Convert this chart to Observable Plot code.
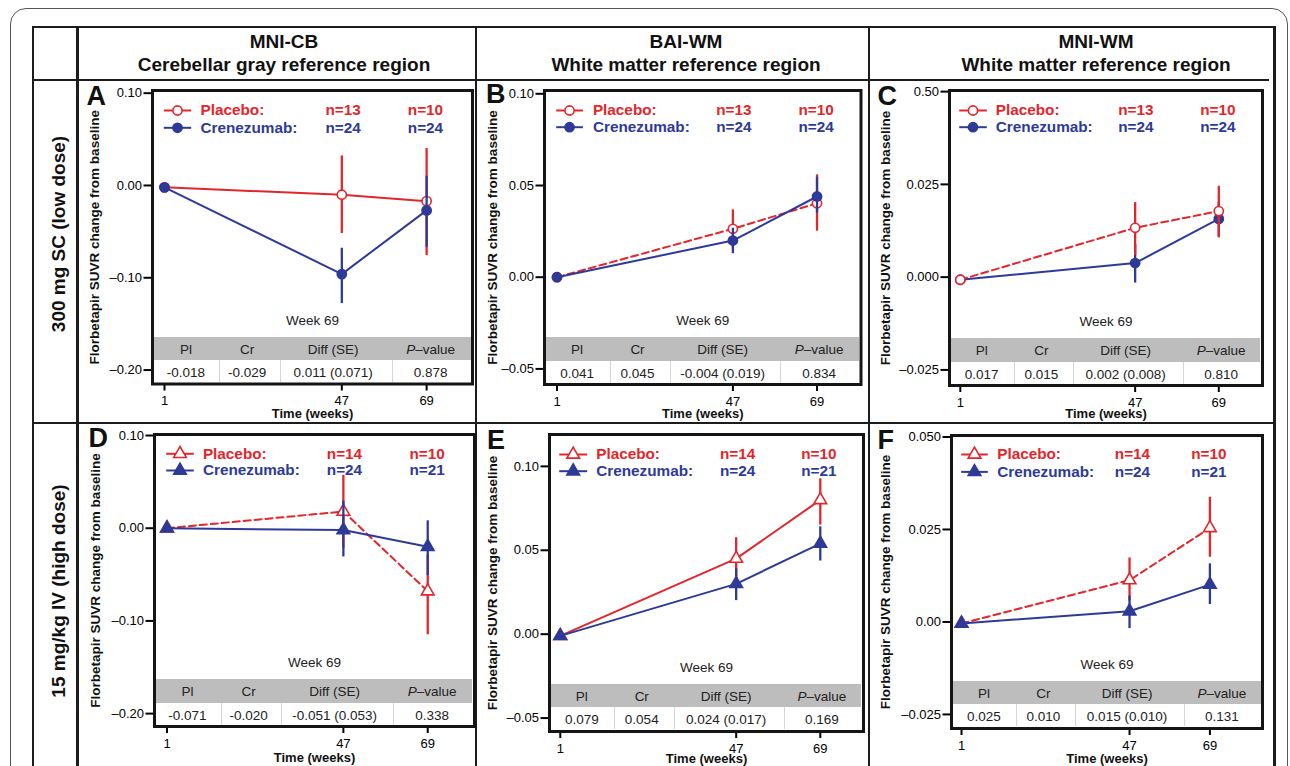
<!DOCTYPE html>
<html><head><meta charset="utf-8">
<script src="https://cdn.jsdelivr.net/npm/d3@7"></script>
<script src="https://cdn.jsdelivr.net/npm/@observablehq/plot@0.6"></script>
<style>
body{margin:0;background:#fff;font-family:"Liberation Sans",Arial,Helvetica,sans-serif;}
#fig{position:relative;width:1290px;height:766px;overflow:hidden;background:#fff;}
.ln{position:absolute;background:#1c1c1c;}
.hdr{position:absolute;transform:translate(-50%,-50%);font-weight:bold;font-size:19px;color:#111;white-space:nowrap;}
.rowlab{position:absolute;font-weight:bold;font-size:19px;white-space:nowrap;transform:translate(-50%,-50%) rotate(-90deg);color:#111;}
.pan{position:absolute;}
.pan svg{overflow:visible;}
.tbl{position:absolute;font-size:13.5px;color:#222;background:#fff;}
.tbl .gray{position:absolute;left:0;right:0;top:0;height:23.5px;background:#bdbdbd;}
.tbl .cell{position:absolute;transform:translate(-50%,-50%);white-space:nowrap;}
.tbl .sep{position:absolute;width:1px;background:#d6d6d6;}
</style></head>
<body><div id="fig"></div>
<script>
// ---------- data ----------
const weeks = [1, 47, 69];
const xTicks = [1, 47, 69];
const colHeads = ["Pl", "Cr", "Diff (SE)", "<i>P</i>–value"];
const legendLabels = ["Placebo:", "Crenezumab:"];
const weekLabel = "Week 69";
const xLabel = "Time (weeks)";
const yLabel = "Florbetapir SUVR change from baseline";
const colTitles = [["MNI-CB", "Cerebellar gray reference region"], ["BAI-WM", "White matter reference region"], ["MNI-WM", "White matter reference region"]];
const rowTitles = ["300 mg SC (low dose)", "15 mg/kg IV (high dose)"];

const yTicksCB = [0.10, 0.00, -0.10, -0.20];
const yTickLabelsCB = ["0.10", "0.00", "–0.10", "–0.20"];
const yTicksBAI = [0.10, 0.05, 0.00, -0.05];
const yTickLabelsBAI = ["0.10", "0.05", "0.00", "–0.05"];
const yTicksWM = [0.05, 0.025, 0.00, -0.025];
const yTickLabelsC = ["0.50", "0.025", "0.000", "–0.025"];
const yTickLabelsF = ["0.050", "0.025", "0.00", "–0.025"];

const nLowPl = ["n=13", "n=10"], nLowCr = ["n=24", "n=24"];
const nHighPl = ["n=14", "n=10"], nHighCr = ["n=24", "n=21"];

// Panel A
const aPlMean = [-0.002, -0.010, -0.017], aPlLo = [null, -0.052, -0.076], aPlHi = [null, 0.032, 0.040];
const aCrMean = [-0.002, -0.096, -0.027], aCrLo = [null, -0.128, -0.067], aCrHi = [null, -0.068, 0.010];
const aTable = ["-0.018", "-0.029", "0.011 (0.071)", "0.878"];
// Panel B
const bPlMean = [0.000, 0.0264, 0.0403], bPlLo = [null, 0.0155, 0.0251], bPlHi = [null, 0.0367, 0.0558];
const bCrMean = [0.000, 0.0200, 0.0440], bCrLo = [null, 0.0128, 0.0349], bCrHi = [null, 0.0267, 0.0545];
const bTable = ["0.041", "0.045", "-0.004 (0.019)", "0.834"];
// Panel C
const cPlMean = [-0.0007, 0.0133, 0.0178], cPlLo = [null, 0.0059, 0.0106], cPlHi = [null, 0.0201, 0.0245];
const cCrMean = [-0.0007, 0.0038, 0.0157], cCrLo = [null, -0.0016, 0.0108], cCrHi = [null, 0.0087, 0.0202];
const cTable = ["0.017", "0.015", "0.002 (0.008)", "0.810"];
// Panel D
const dPlMean = [0.000, 0.018, -0.068], dPlLo = [null, -0.022, -0.115], dPlHi = [null, 0.057, -0.029];
const dCrMean = [0.000, -0.002, -0.020], dCrLo = [null, -0.031, -0.051], dCrHi = [null, 0.029, 0.008];
const dTable = ["-0.071", "-0.020", "-0.051 (0.053)", "0.338"];
// Panel E
const ePlMean = [-0.001, 0.045, 0.080], ePlLo = [null, 0.032, 0.065], ePlHi = [null, 0.0575, 0.0926];
const eCrMean = [-0.001, 0.030, 0.054], eCrLo = [null, 0.020, 0.0436], eCrHi = [null, 0.039, 0.064];
const eTable = ["0.079", "0.054", "0.024 (0.017)", "0.169"];
// Panel F
const fPlMean = [-0.0004, 0.0113, 0.0254], fPlLo = [null, 0.0056, 0.0175], fPlHi = [null, 0.0173, 0.0337];
const fCrMean = [-0.0004, 0.0029, 0.0101], fCrLo = [null, -0.0018, 0.0047], fCrHi = [null, 0.0070, 0.0157];
const fTable = ["0.025", "0.010", "0.015 (0.010)", "0.131"];

// ---------- style / layout ----------
const RED = "#e3262b", BLUE = "#2d3a98";
const FONT = "Liberation Sans, Arial, Helvetica, sans-serif";
const fig = document.getElementById("fig");

function addDiv(cls, css, html) {
  const d = document.createElement("div");
  d.className = cls;
  Object.assign(d.style, css);
  if (html != null) d.innerHTML = html;
  fig.appendChild(d);
  return d;
}
// outer rounded border
addDiv("", {position: "absolute", left: "10px", top: "8px", width: "1276px", height: "820px", border: "1.5px solid #555", borderRadius: "16px"});
// table grid
const L = (x, y, w, h) => addDiv("ln", {left: x + "px", top: y + "px", width: w + "px", height: h + "px"});
L(31.5, 25.5, 2.5, 760); L(31.5, 25.5, 1244, 2.5); L(1273, 25.5, 2.5, 760);
L(76, 25.5, 2.5, 760); L(474.5, 25.5, 2.5, 760); L(867.5, 25.5, 2.5, 760);
L(31.5, 78.5, 1237, 2.5); L(31.5, 421.5, 1244, 2.5);
// headers
const hdrX = [284, 686, 1096];
colTitles.forEach((t, i) => {
  addDiv("hdr", {left: hdrX[i] + "px", top: "42px"}, t[0]);
  addDiv("hdr", {left: hdrX[i] + "px", top: "64.5px"}, t[1]);
});
addDiv("rowlab", {left: "59px", top: "234px"}, rowTitles[0]);
addDiv("rowlab", {left: "59px", top: "591px"}, rowTitles[1]);

const series = (m, lo, hi) => weeks.map((w, i) => ({week: w, mean: m[i], lo: lo[i], hi: hi[i]}));
const lineSym = {draw(ctx, size) { const r = Math.sqrt(size / Math.PI); ctx.moveTo(-r, 0); ctx.lineTo(r, 0); }};

const panels = [
  {id: "A", fx: 152, fy: 90, fw: 320, fh: 293.5, xdom: [-2.11, 80.9], ydom: [-0.2151, 0.1029], yTicks: yTicksCB, yLabels: yTickLabelsCB,
   pl: series(aPlMean, aPlLo, aPlHi), cr: series(aCrMean, aCrLo, aCrHi), dash: false, sym: "circle", nPl: nLowPl, nCr: nLowCr, table: aTable,
   letter: [-66, -5], ylab: -58, xlab: 29.5, leg: {x0: 11.3, x1: 38.7, tx: 48, n1: 173, n2: 255.3, y1: 20, y2: 37.3}},
  {id: "B", fx: 543.5, fy: 90, fw: 316.5, fh: 294, xdom: [-2.27, 80.5], ydom: [-0.0585, 0.1018], yTicks: yTicksBAI, yLabels: yTickLabelsBAI,
   pl: series(bPlMean, bPlLo, bPlHi), cr: series(bCrMean, bCrLo, bCrHi), dash: true, sym: "circle", nPl: nLowPl, nCr: nLowCr, table: bTable,
   letter: [-58.5, -6.5], ylab: -52, xlab: 29.3, leg: {x0: 11.7, x1: 38.4, tx: 48.4, n1: 171.7, n2: 254, y1: 20, y2: 36.7}},
  {id: "C", fx: 948.5, fy: 90, fw: 313, fh: 295, xdom: [-1.84, 80.5], ydom: [-0.0292, 0.0503], yTicks: yTicksWM, yLabels: yTickLabelsC,
   pl: series(cPlMean, cPlLo, cPlHi), cr: series(cCrMean, cCrLo, cCrHi), dash: true, sym: "circle", nPl: nLowPl, nCr: nLowCr, table: cTable,
   letter: [-72, -5], ylab: -63.5, xlab: 28.5, leg: {x0: 9.7, x1: 37.3, tx: 46.3, n1: 168.7, n2: 250.7, y1: 20, y2: 36.7}, plTop: true},
  {id: "D", fx: 153.5, fy: 434, fw: 320, fh: 292, xdom: [-2.26, 81.2], ydom: [-0.2139, 0.1011], yTicks: yTicksCB, yLabels: yTickLabelsCB,
   pl: series(dPlMean, dPlLo, dPlHi), cr: series(dCrMean, dCrLo, dCrHi), dash: true, sym: "triangle", nPl: nHighPl, nCr: nHighCr, table: dTable,
   letter: [-66, -7], ylab: -58.5, xlab: 31.5, leg: {x0: 11.7, x1: 39.3, tx: 48.4, n1: 172.3, n2: 255, y1: 19.3, y2: 36}},
  {id: "E", fx: 548.5, fy: 433.5, fw: 314, fh: 297, xdom: [-1.82, 80.3], ydom: [-0.058, 0.119], yTicks: yTicksBAI, yLabels: yTickLabelsBAI,
   pl: series(ePlMean, ePlLo, ePlHi), cr: series(eCrMean, eCrLo, eCrHi), dash: false, sym: "triangle", nPl: nHighPl, nCr: nHighCr, table: eTable,
   letter: [-62.5, -5], ylab: -56.5, xlab: 27.3, leg: {x0: 9.7, x1: 37.7, tx: 46.7, n1: 170.5, n2: 251.7, y1: 20, y2: 36.7}},
  {id: "F", fx: 951, fy: 434.5, fw: 311, fh: 293, xdom: [-1.74, 83.4], ydom: [-0.0288, 0.0504], yTicks: yTicksWM, yLabels: yTickLabelsF,
   pl: series(fPlMean, fPlLo, fPlHi), cr: series(fCrMean, fCrLo, fCrHi), dash: true, sym: "triangle", nPl: nHighPl, nCr: nHighCr, table: fTable,
   letter: [-74, -6], ylab: -66, xlab: 30.5, leg: {x0: 9.7, x1: 36.3, tx: 45.7, n1: 163.3, n2: 239.7, y1: 19, y2: 36.4}}
];

const colFrac = [0.106, 0.297, 0.566, 0.871];
const sepFrac = [0.207, 0.398, 0.751];

panels.forEach(p => {
  const ML = 80, MT = 15, MR = 10, MB = 42;
  // table (HTML, below the svg)
  const t = addDiv("tbl", {left: (p.fx + 1.5) + "px", top: (p.fy + p.fh - 47) + "px", width: (p.fw - 3) + "px", height: "45.5px"});
  const g = document.createElement("div"); g.className = "gray"; t.appendChild(g);
  const iw = p.fw - 3;
  sepFrac.forEach(f => {
    const s = document.createElement("div"); s.className = "sep";
    Object.assign(s.style, {left: (iw * f) + "px", top: "23.5px", height: "22px"}); t.appendChild(s);
  });
  colHeads.forEach((h, i) => {
    const c = document.createElement("div"); c.className = "cell"; c.innerHTML = h;
    Object.assign(c.style, {left: (p.fw * colFrac[i] - 1.5) + "px", top: "12px"}); t.appendChild(c);
  });
  p.table.forEach((v, i) => {
    const c = document.createElement("div"); c.className = "cell"; c.textContent = v;
    Object.assign(c.style, {left: (p.fw * colFrac[i] - 1.5) + "px", top: "35.5px"}); t.appendChild(c);
  });

  const isCircle = p.sym === "circle";
  const rr = isCircle ? 4.6 : 4.7;
  const serMarks = (d, color, open, dash) => [
    Plot.line(d, {x: "week", y: "mean", stroke: color, strokeWidth: 2, ...(dash ? {strokeDasharray: "7,4"} : {})}),
    Plot.ruleX(d.filter(v => v.lo != null), {x: "week", y1: "lo", y2: "hi", stroke: color, strokeWidth: 2.3}),
    Plot.dot(d, {x: "week", y: "mean", symbol: p.sym, r: rr, fill: open ? "white" : color, stroke: color, strokeWidth: 1.6})
  ];
  const Lg = p.leg, lcx = (Lg.x0 + Lg.x1) / 2, lr = (Lg.x1 - Lg.x0) / 2;
  const txt = (s, dx, y, color) => Plot.text([s], {frameAnchor: "top-left", dx, dy: y, text: d => d, textAnchor: "start", lineAnchor: "middle", fill: color, fontWeight: "bold", fontSize: 15.3});
  const legMarks = (y, color, open, label, n) => [
    Plot.dot([0], {frameAnchor: "top-left", dx: lcx, dy: y, symbol: lineSym, r: lr, stroke: color, strokeWidth: 2, fill: "none"}),
    Plot.dot([0], {frameAnchor: "top-left", dx: lcx, dy: y, symbol: p.sym, r: rr, fill: open ? "white" : color, stroke: color, strokeWidth: 1.6}),
    txt(label, Lg.tx, y, color), txt(n[0], Lg.n1, y, color), txt(n[1], Lg.n2, y, color)
  ];
  const plM = serMarks(p.pl, RED, true, p.dash), crM = serMarks(p.cr, BLUE, false, false);
  const dataMarks = p.plTop ? [...crM, ...plM] : [...plM, ...crM];

  const chart = Plot.plot({
    width: p.fw + ML + MR, height: p.fh + MT + MB,
    marginLeft: ML, marginTop: MT, marginRight: MR, marginBottom: MB,
    style: {background: "transparent", overflow: "visible", fontFamily: FONT},
    x: {domain: p.xdom},
    y: {domain: p.ydom},
    marks: [
      Plot.axisX({ticks: xTicks, tickFormat: d => String(d), tickSize: 7, tickPadding: 5, fontSize: 13, strokeWidth: 2, label: null}),
      Plot.axisY({ticks: p.yTicks, tickFormat: d => p.yLabels[p.yTicks.findIndex(v => Math.abs(v - d) < 1e-9)], tickSize: 8.5, tickPadding: 2, fontSize: 13, strokeWidth: 2, label: null}),
      Plot.text([yLabel], {frameAnchor: "left", dx: p.ylab, rotate: -90, text: d => d, textAnchor: "middle", lineAnchor: "middle", fontWeight: "bold", fontSize: 13.5, fill: "#111"}),
      Plot.text([p.id], {frameAnchor: "top-left", dx: p.letter[0], dy: p.letter[1], text: d => d, textAnchor: "start", lineAnchor: "top", fontWeight: "bold", fontSize: 27, fill: "#111"}),
      Plot.text([xLabel], {frameAnchor: "bottom", dy: p.xlab, text: d => d, lineAnchor: "middle", fontWeight: "bold", fontSize: 13, fill: "#111"}),
      Plot.text([weekLabel], {frameAnchor: "bottom", dy: -63.5, text: d => d, lineAnchor: "middle", fontSize: 13.5, fill: "#222"}),
      ...legMarks(Lg.y1, RED, true, legendLabels[0], p.nPl),
      ...legMarks(Lg.y2, BLUE, false, legendLabels[1], p.nCr),
      ...dataMarks,
      Plot.frame({stroke: "#151515", strokeWidth: 3})
    ]
  });
  const w = addDiv("pan", {left: (p.fx - ML) + "px", top: (p.fy - MT) + "px"});
  w.appendChild(chart);
});
</script></body></html>
